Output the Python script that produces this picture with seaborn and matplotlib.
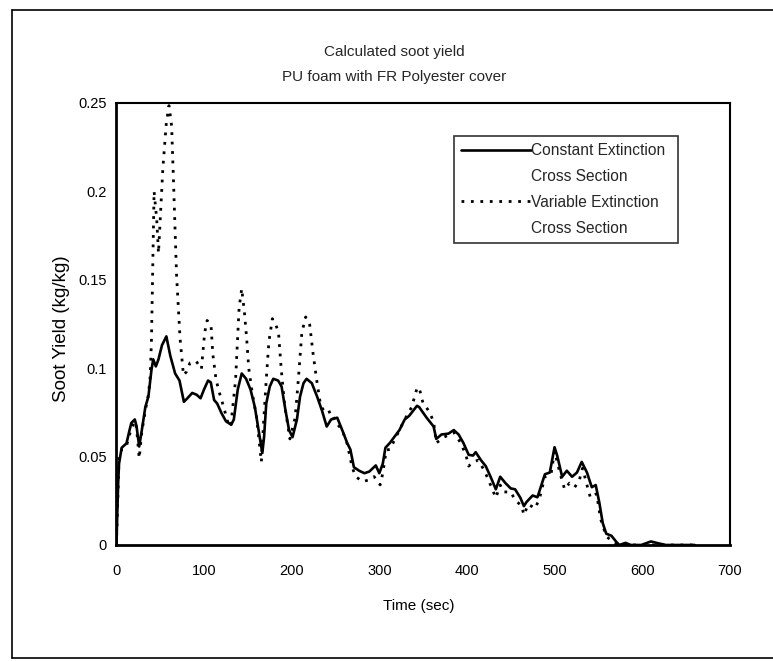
import pandas as pd
import seaborn as sns
import matplotlib.pyplot as plt
from matplotlib.lines import Line2D

# 1. data (time in s, soot yield in kg/kg)
t_const = [0, 2, 3, 6, 11.5, 15, 17, 21, 23, 26, 29, 33, 36.5, 40, 42, 45, 48, 52, 57, 61.5,
           67, 72, 77, 81, 86.5, 91.5, 96, 100, 104.6, 107.7, 111.5, 115, 120, 125, 131, 134,
           138.5, 143, 148, 153, 158, 163.5, 166.5, 168.5, 171, 175, 179, 184.6, 188.5, 193,
           197, 201, 206, 209.6, 213.5, 217, 223, 229, 234.6, 240, 245, 252, 257.7, 263.5,
           267, 271, 277, 283, 288.5, 296, 300, 304, 307, 312, 317, 323, 329, 334, 343,
           345.5, 354, 362, 365, 371, 379, 385, 390.5, 396, 402, 407, 410, 416, 421.5, 427,
           433, 438, 444, 450, 455, 461, 465, 468, 475, 480.5, 485, 489, 494.6, 500, 503,
           508.7, 514, 520, 525.6, 531, 537, 542.5, 547, 551, 555, 559, 565, 570.6, 574, 581,
           587, 599, 610, 618, 627, 660]
y_const = [0, 0.035, 0.046, 0.055, 0.0575, 0.065, 0.069, 0.071, 0.067, 0.0557, 0.065, 0.078,
           0.084, 0.099, 0.105, 0.101, 0.105, 0.113, 0.118, 0.107, 0.097, 0.093, 0.081, 0.083,
           0.086, 0.085, 0.083, 0.088, 0.093, 0.092, 0.082, 0.080, 0.0745, 0.070, 0.068, 0.071,
           0.088, 0.097, 0.094, 0.088, 0.078, 0.061, 0.052, 0.061, 0.080, 0.0896, 0.094, 0.093,
           0.0896, 0.076, 0.065, 0.061, 0.071, 0.084, 0.0915, 0.094, 0.0915, 0.084, 0.076,
           0.067, 0.071, 0.072, 0.065, 0.0575, 0.054, 0.044, 0.042, 0.0406, 0.0415, 0.045,
           0.0406, 0.046, 0.055, 0.0577, 0.061, 0.065, 0.071, 0.073, 0.0787, 0.078, 0.072,
           0.067, 0.060, 0.0625, 0.063, 0.065, 0.0625, 0.0577, 0.051, 0.0506, 0.0525, 0.048,
           0.0446, 0.0386, 0.0315, 0.0386, 0.035, 0.032, 0.0315, 0.0267, 0.022, 0.0243, 0.028,
           0.027, 0.0339, 0.040, 0.041, 0.0553, 0.0506, 0.0386, 0.042, 0.0386, 0.041, 0.047,
           0.041, 0.0327, 0.0339, 0.0243, 0.0124, 0.0064, 0.0052, 0.0017, 0, 0.0012, 0, 0,
           0.002, 0.001, 0, 0]

t_var = [0, 3, 6, 7.7, 12, 17, 21, 23, 26, 29, 33, 36.5, 38.5, 40, 43, 46, 47, 48, 53, 57,
         60, 63, 65, 68.6, 72.6, 76.5, 80, 84, 91, 97, 100.7, 103.5, 108, 110, 113.7, 117.6,
         123, 127, 130.5, 136, 140, 143, 146, 148.6, 151, 155, 160, 165.4, 168, 171, 174,
         178, 182, 185, 188, 192, 198, 204, 207.6, 211.6, 216, 220.6, 224.5, 228.5, 233,
         238.6, 245, 250, 257.7, 263.5, 269, 273, 281, 288, 294, 301, 304, 308, 312, 329,
         337, 343, 345.5, 350, 357, 362, 365, 374, 385, 393, 399, 402, 407, 413, 420, 427,
         433, 438, 442, 450, 455, 462.5, 465, 470, 478, 483, 489, 496, 500, 506, 511.5, 517,
         523, 528, 532, 537, 541, 548, 552.5, 559, 568, 575, 600, 660]
y_var = [0, 0.05, 0.054, 0.054, 0.057, 0.066, 0.070, 0.066, 0.049, 0.064, 0.076, 0.085,
         0.095, 0.116, 0.200, 0.184, 0.175, 0.165, 0.213, 0.239, 0.2485, 0.237, 0.208, 0.153,
         0.117, 0.096, 0.098, 0.103, 0.104, 0.0995, 0.120, 0.127, 0.124, 0.108, 0.0935, 0.086,
         0.077, 0.0696, 0.067, 0.0935, 0.134, 0.145, 0.132, 0.117, 0.100, 0.086, 0.072, 0.047,
         0.0696, 0.0935, 0.115, 0.128, 0.1245, 0.120, 0.100, 0.079, 0.060, 0.072, 0.0935,
         0.120, 0.129, 0.1245, 0.108, 0.0935, 0.079, 0.0744, 0.0756, 0.0696, 0.065, 0.057,
         0.044, 0.0387, 0.0358, 0.0368, 0.0387, 0.034, 0.0406, 0.0538, 0.054, 0.071, 0.078,
         0.0887, 0.089, 0.080, 0.0756, 0.0696, 0.0577, 0.061, 0.0637, 0.0577, 0.0506, 0.0446,
         0.047, 0.048, 0.042, 0.0339, 0.0267, 0.0339, 0.030, 0.030, 0.0255, 0.022, 0.017,
         0.023, 0.0207, 0.0267, 0.0386, 0.040, 0.053, 0.041, 0.0315, 0.035, 0.0327, 0.0362,
         0.0434, 0.0339, 0.0267, 0.029, 0.0148, 0.005, 0.001, 0, 0, 0]

x_ticks = [0, 100, 200, 300, 400, 500, 600, 700]
y_ticks = [0, 0.05, 0.1, 0.15, 0.2, 0.25]
y_tick_labels = ["0", "0.05", "0.1", "0.15", "0.2", "0.25"]

df_const = pd.DataFrame({"t": t_const, "y": y_const})
df_var = pd.DataFrame({"t": t_var, "y": y_var})

# 2. plot
sns.set_theme(style="white")
plt.rcParams["font.family"] = ["Liberation Sans", "DejaVu Sans"]

fig = plt.figure(figsize=(7.73, 6.61), dpi=100)
ax = fig.add_axes([0.1506, 0.1755, 0.7935, 0.6687])

dotted = (0, (1, 2.4))
sns.lineplot(data=df_var, x="t", y="y", ax=ax, color="black", lw=2.0,
             linestyle=dotted, estimator=None, sort=False)
sns.lineplot(data=df_const, x="t", y="y", ax=ax, color="black", lw=1.9,
             estimator=None, sort=False)

ax.set_xlim(0, 700)
ax.set_ylim(0, 0.25)
ax.set_xticks(x_ticks)
ax.set_yticks(y_ticks)
ax.set_yticklabels(y_tick_labels)
ax.tick_params(direction="inout", length=6, width=1, color="black",
               labelsize=10.5, labelcolor="black")
ax.tick_params(axis="x", pad=11)
ax.tick_params(axis="y", pad=4)
for s in ax.spines.values():
    s.set_color("black")
    s.set_linewidth(1.5)
ax.spines["left"].set_linewidth(2)
ax.spines["bottom"].set_linewidth(2)

ax.set_xlabel("Time (sec)", fontsize=11, color="black")
ax.set_ylabel("Soot Yield (kg/kg)", fontsize=13.5, color="black")
ax.xaxis.set_label_coords(0.493, -0.122)
ax.yaxis.set_label_coords(-0.0756, 0.489)

# legend, Excel style: handle beside the first line of each label
handles = [Line2D([], [], color="black", lw=1.9),
           Line2D([], [], color="none"),
           Line2D([], [], color="black", lw=2.0, linestyle=dotted),
           Line2D([], [], color="none")]
labels = ["Constant Extinction", "Cross Section", "Variable Extinction", "Cross Section"]
leg = ax.legend(handles, labels, loc="upper left",
                bbox_to_anchor=(0.550, 0.688, 0.3656, 0.237), mode="expand",
                fontsize=11.2, frameon=True, fancybox=False, handlelength=4.5,
                handletextpad=0.0, labelspacing=0.7, borderpad=0.45, borderaxespad=0)
leg.get_frame().set_edgecolor("black")
leg.get_frame().set_linewidth(1.2)

fig.text(0.51, 1 - 52 / 661, "Calculated soot yield", ha="center", va="center", fontsize=11)
fig.text(0.51, 1 - 77 / 661, "PU foam with FR Polyester cover", ha="center", va="center", fontsize=11)

# outer frame of the scanned figure
fig.add_artist(Line2D([0.0155, 0.0155], [0.0045, 0.985], color="black", lw=1.2))
fig.add_artist(Line2D([0.0155, 1.0], [0.985, 0.985], color="black", lw=1.2))
fig.add_artist(Line2D([0.0155, 1.0], [0.0045, 0.0045], color="black", lw=1.2))

fig.savefig("out.png", dpi=100)
